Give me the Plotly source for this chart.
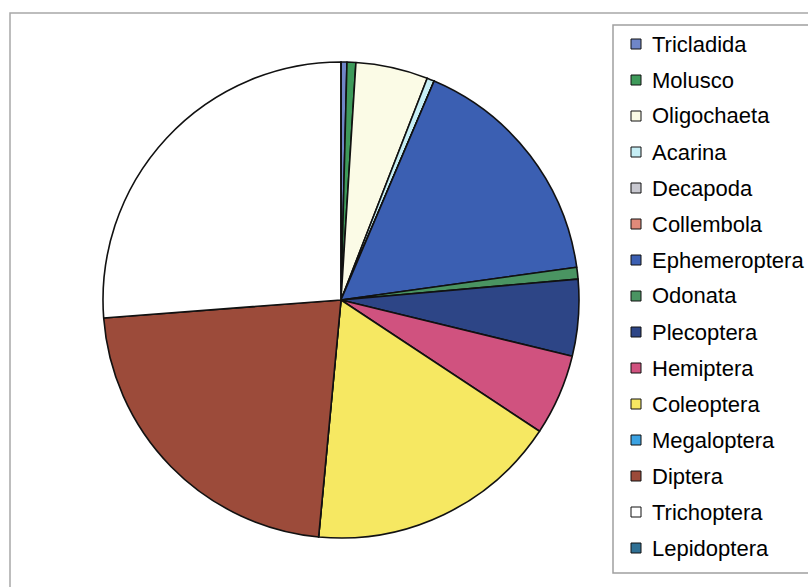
import plotly.graph_objects as go

W, H = 808, 587

labels = ["Tricladida", "Molusco", "Oligochaeta", "Acarina", "Decapoda", "Collembola",
          "Ephemeroptera", "Odonata", "Plecoptera", "Hemiptera", "Coleoptera",
          "Megaloptera", "Diptera", "Trichoptera", "Lepidoptera"]
values = [0.4, 0.6, 4.9, 0.5, 0.0, 0.0, 16.4, 0.8, 5.2, 5.5, 17.2, 0.0, 22.3, 26.2, 0.0]
colors = ["#6f86c8", "#3e9a5a", "#fbfbe6", "#c6eef5", "#c8c8d0", "#e08a7a",
          "#3b5fb2", "#4a9462", "#2d4586", "#d0527f", "#f6e862", "#3ba2e2",
          "#9c4b3a", "#ffffff", "#2f7094"]


def px(x):
    return x / W


def py(y):
    return 1 - y / H


cx, cy, r = 341, 300, 238

fig = go.Figure(go.Pie(
    labels=labels, values=values, sort=False, direction="clockwise", rotation=0,
    marker=dict(colors=colors, line=dict(color="#111111", width=1.6)),
    textinfo="none", hoverinfo="label+percent", showlegend=False,
    domain=dict(x=[px(cx - r), px(cx + r)], y=[py(cy + r), py(cy - r)]),
))

shapes = []
annotations = []
# outer frame
shapes.append(dict(type="rect", xref="paper", yref="paper",
                   x0=px(10), x1=px(W + 20), y0=py(H + 20), y1=py(13),
                   line=dict(color="#a8a8a8", width=1.5), fillcolor="rgba(0,0,0,0)"))
# legend box
shapes.append(dict(type="rect", xref="paper", yref="paper",
                   x0=px(613), x1=px(W + 20), y0=py(573), y1=py(25),
                   line=dict(color="#a0a0a0", width=1.5), fillcolor="rgba(0,0,0,0)"))

y0, step, sq = 44, 36, 10
for i, (lab, col) in enumerate(zip(labels, colors)):
    yc = y0 + i * step
    shapes.append(dict(type="rect", xref="paper", yref="paper",
                       x0=px(636 - sq / 2), x1=px(636 + sq / 2),
                       y0=py(yc + sq / 2), y1=py(yc - sq / 2),
                       line=dict(color="#111111", width=1), fillcolor=col))
    annotations.append(dict(xref="paper", yref="paper", x=px(650), y=py(yc),
                            text=lab, showarrow=False, xanchor="left", yanchor="middle",
                            font=dict(family="Liberation Sans, Arial, sans-serif",
                                      size=22, color="#000000")))

fig.update_layout(width=W, height=H, margin=dict(l=0, r=0, t=0, b=0),
                  paper_bgcolor="white", plot_bgcolor="white",
                  shapes=shapes, annotations=annotations)

fig.write_html("out.html", config={"displayModeBar": False},
               post_script="document.body.style.margin='0';document.body.style.overflow='hidden';")
